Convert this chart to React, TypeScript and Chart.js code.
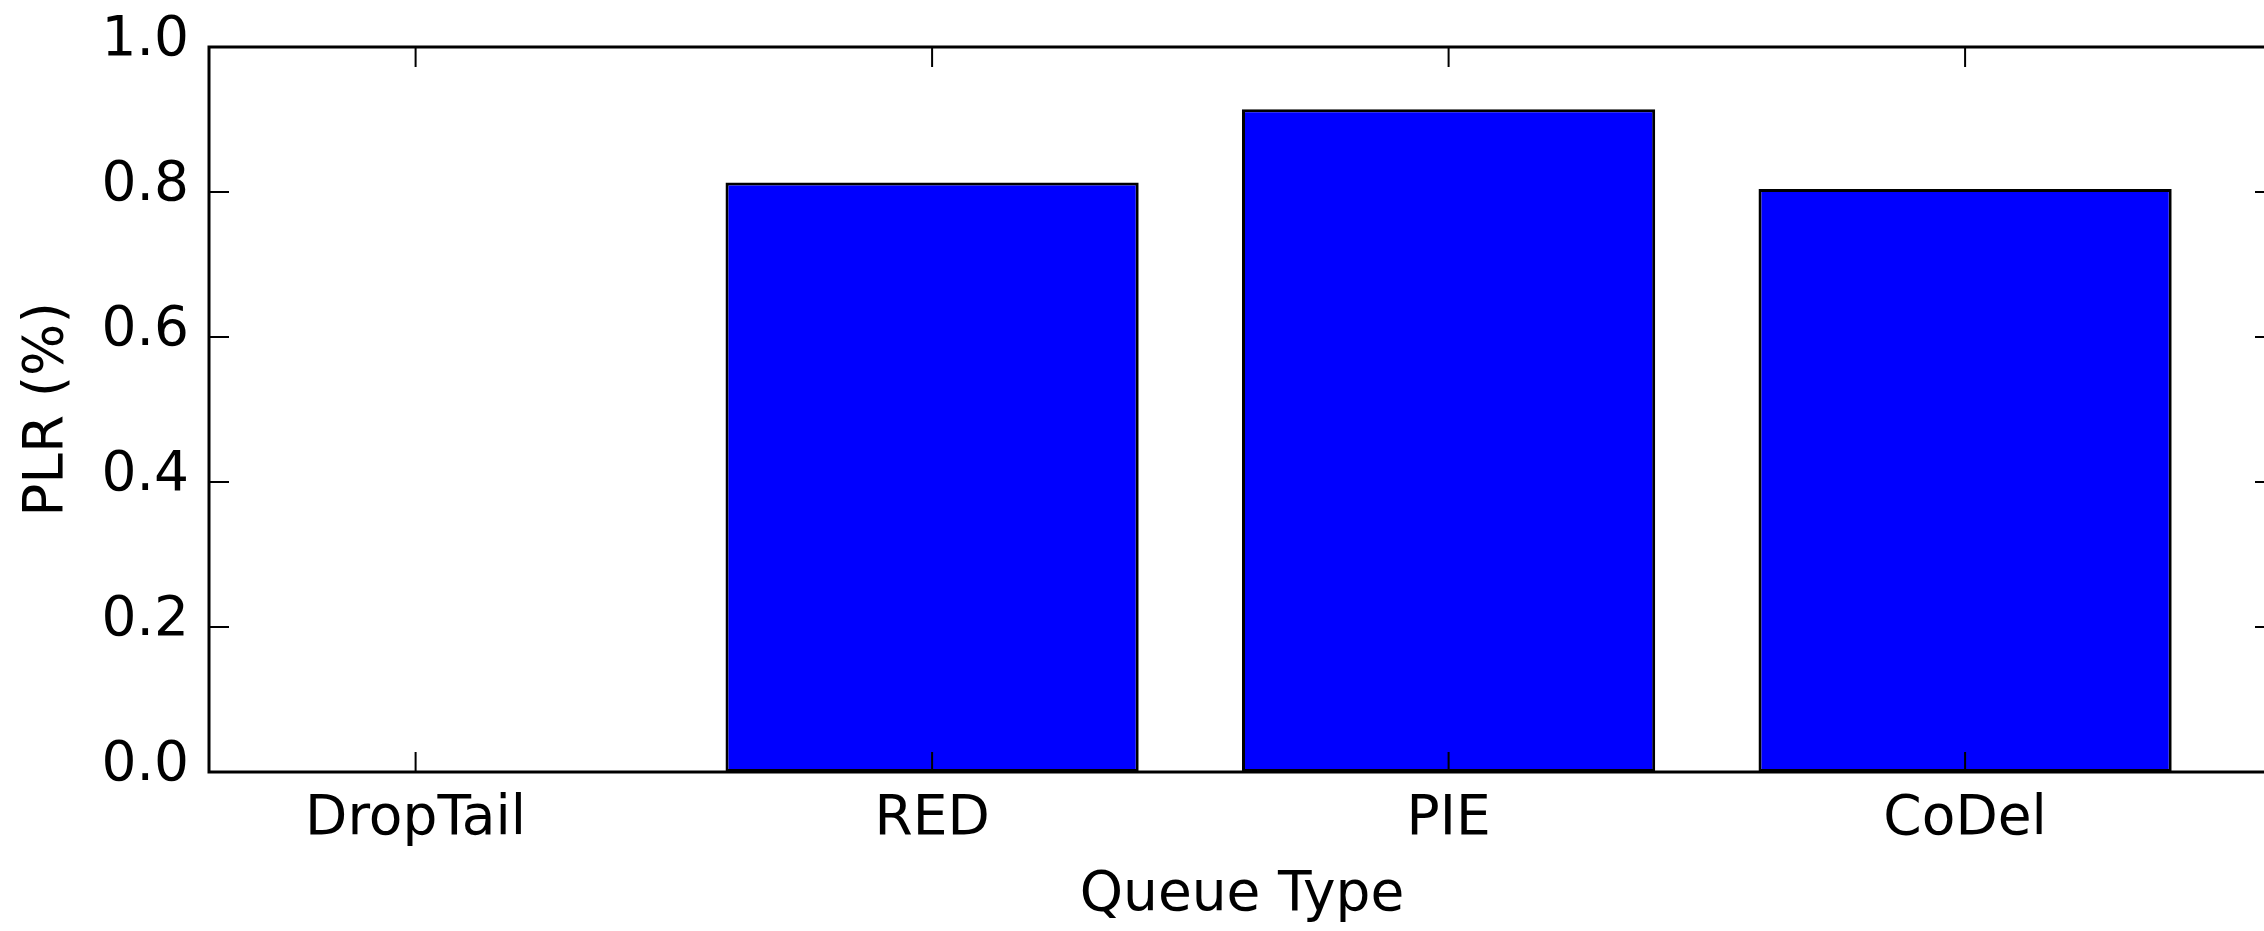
import React, { useEffect, useRef } from 'react';
import { Chart, registerables } from 'chart.js';

Chart.register(...registerables);

const categories = ['DropTail', 'RED', 'PIE', 'CoDel'];
const plrValues = [0.0, 0.813, 0.914, 0.804];
const yTickValues = [0.0, 0.2, 0.4, 0.6, 0.8, 1.0];
const xAxisTitle = 'Queue Type';
const yAxisTitle = 'PLR (%)';

const FONT_FAMILY = "'DejaVu Sans', 'Noto Sans', sans-serif";
const FONT_SIZE = 55;
const CANVAS_W = 2290;
const CANVAS_H = 931;

const framePlugin = {
  id: 'mplFrame',
  afterDraw(chart: any) {
    const { ctx, chartArea: a, scales } = chart;
    const xs = scales.x;
    const ys = scales.y;
    const len = 20;
    ctx.save();
    ctx.strokeStyle = '#000000';
    ctx.lineWidth = 2;
    ctx.beginPath();
    xs.ticks.forEach((_t: any, i: number) => {
      const px = xs.getPixelForTick(i);
      ctx.moveTo(px, a.bottom);
      ctx.lineTo(px, a.bottom - len);
      ctx.moveTo(px, a.top);
      ctx.lineTo(px, a.top + len);
    });
    ys.ticks.forEach((_t: any, i: number) => {
      const py = ys.getPixelForTick(i);
      ctx.moveTo(a.left, py);
      ctx.lineTo(a.left + len, py);
      ctx.moveTo(a.right, py);
      ctx.lineTo(a.right - len, py);
    });
    ctx.stroke();
    ctx.lineWidth = 3;
    ctx.strokeRect(a.left, a.top, a.right - a.left, a.bottom - a.top);
    ctx.restore();
  },
};

export default function App() {
  const canvasRef = useRef<HTMLCanvasElement | null>(null);

  useEffect(() => {
    if (!canvasRef.current) return;
    const font = { family: FONT_FAMILY, size: FONT_SIZE };
    const chart = new Chart(canvasRef.current, {
      type: 'bar',
      data: {
        datasets: [
          {
            label: 'PLR',
            data: categories.map((_c, i) => ({ x: i, y: plrValues[i] })),
            backgroundColor: '#0000ff',
            borderColor: '#000000',
            borderWidth: 3,
            borderSkipped: false,
            categoryPercentage: 0.8,
            barPercentage: 1.0,
          },
        ],
      },
      options: {
        responsive: false,
        animation: false,
        devicePixelRatio: 1,
        layout: { padding: { left: 0, top: 47, right: 15, bottom: 0 } },
        plugins: {
          legend: { display: false },
          tooltip: { enabled: false },
        },
        scales: {
          x: {
            type: 'linear',
            min: -0.4,
            max: 3.6,
            offset: false,
            grid: { display: false, drawTicks: false },
            border: { display: false },
            afterBuildTicks: (scale: any) => {
              scale.ticks = categories.map((_c, i) => ({ value: i }));
            },
            afterFit: (scale: any) => {
              scale.height = 159;
              scale.paddingLeft = 0;
              scale.paddingRight = 0;
            },
            ticks: {
              color: '#000000',
              font,
              padding: 15,
              maxRotation: 0,
              autoSkip: false,
              callback: (v: any) => categories[Math.round(Number(v))] ?? '',
            },
            title: {
              display: true,
              text: xAxisTitle,
              color: '#000000',
              font,
              padding: { top: 0, bottom: 2 },
            },
          },
          y: {
            type: 'linear',
            min: 0,
            max: 1,
            grid: { display: false, drawTicks: false },
            border: { display: false },
            afterBuildTicks: (scale: any) => {
              scale.ticks = yTickValues.map((v) => ({ value: v }));
            },
            afterFit: (scale: any) => {
              scale.width = 209;
              scale.paddingTop = 0;
              scale.paddingBottom = 0;
            },
            ticks: {
              color: '#000000',
              font,
              padding: 20,
              labelOffset: -6,
              callback: (v: any) => Number(v).toFixed(1),
            },
            title: {
              display: true,
              text: yAxisTitle,
              color: '#000000',
              font,
              padding: { top: 15, bottom: 0 },
            },
          },
        },
      },
      plugins: [framePlugin],
    } as any);
    return () => chart.destroy();
  }, []);

  return (
    <div
      style={{
        position: 'fixed',
        left: 0,
        top: 0,
        width: 2264,
        height: 931,
        overflow: 'hidden',
        background: '#ffffff',
      }}
    >
      <canvas
        ref={canvasRef}
        width={CANVAS_W}
        height={CANVAS_H}
        style={{ display: 'block', width: CANVAS_W, height: CANVAS_H }}
      />
    </div>
  );
}
